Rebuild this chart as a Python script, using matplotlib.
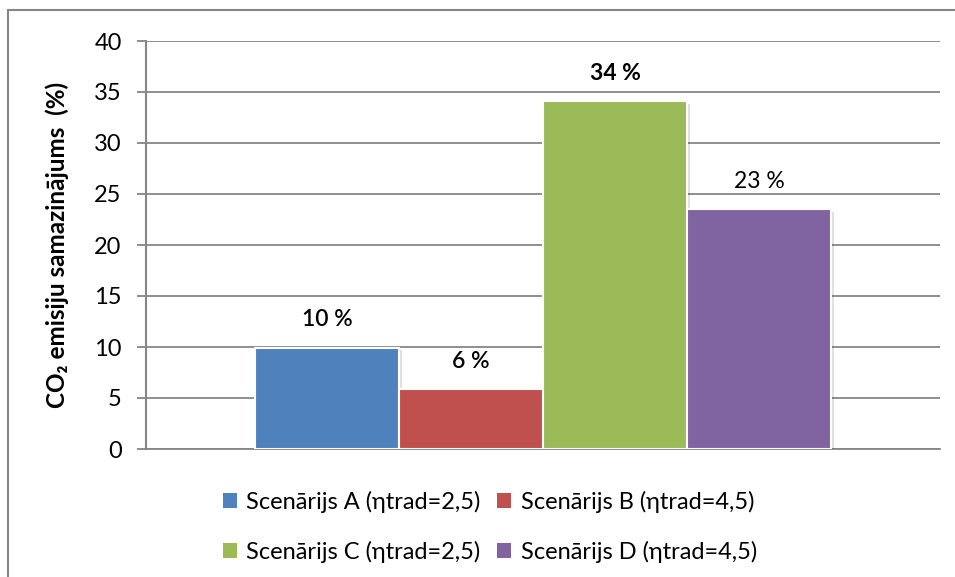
import matplotlib
matplotlib.use("Agg")
import matplotlib.pyplot as plt
import matplotlib.patheffects as pe
from matplotlib.patches import Rectangle

series = ["Scenārijs A (ηtrad=2,5)", "Scenārijs B (ηtrad=4,5)",
          "Scenārijs C (ηtrad=2,5)", "Scenārijs D (ηtrad=4,5)"]
values = [9.95, 5.9, 34.1, 23.5]
value_labels = ["10 %", "6 %", "34 %", "23 %"]
label_weights = ["semibold", "semibold", "bold", "normal"]
colors = ["#4F81BD", "#C0504D", "#9BBB59", "#8064A2"]
yticks = [0, 5, 10, 15, 20, 25, 30, 35, 40]
ylabel = "CO₂ emisiju samazinājums  (%)"

FONT = ["Lato", "DejaVu Sans"]
plt.rcParams["font.family"] = FONT

W, H = 955, 577
fig = plt.figure(figsize=(W / 100, H / 100), dpi=100)

# outer chart frame (cropped at right and bottom)
fig.patches.append(Rectangle((8 / W, -0.1), 1.2, 1 - 10 / H + 0.1,
                             transform=fig.transFigure, fill=False,
                             edgecolor="#868686", linewidth=1.5))

ax = fig.add_axes([146 / W, 1 - 449 / H, (940 - 146) / W, (449 - 41) / H])

n = len(values)
bw = 0.1814
xs = [(i - (n - 1) / 2) * bw for i in range(n)]
bars = ax.bar(xs, values, width=bw, color=colors, edgecolor="white",
              linewidth=1.5, zorder=3)
for b in bars:
    b.set_path_effects([pe.SimplePatchShadow(offset=(2, -2), shadow_rgbFace="#000000", alpha=0.12), pe.Normal()])

for x, v, lab, w in zip(xs, values, value_labels, label_weights):
    ax.annotate(lab, (x, v), xytext=(0, 20), textcoords="offset points",
                ha="center", va="center", fontsize=16.5, fontweight=w,
                color="black")

ax.set_xlim(-0.5, 0.5)
ax.set_ylim(0, 40)
ax.set_yticks(yticks)
ax.set_xticks([])
ax.tick_params(axis="y", length=6.5, width=1.3, color="#868686",
               labelsize=17, pad=11, labelcolor="black")
ax.grid(axis="y", color="#868686", linewidth=1.3, zorder=0)
ax.set_axisbelow(True)
for s in ["top", "right"]:
    ax.spines[s].set_visible(False)
ax.spines["left"].set_color("#868686")
ax.spines["left"].set_linewidth(1.5)
ax.spines["bottom"].set_color("#868686")
ax.spines["bottom"].set_linewidth(1.3)
ax.set_ylabel(ylabel, fontsize=17.5, fontweight="bold", color="black")
ax.yaxis.set_label_coords(-(146 - 69) / (940 - 146), 0.5)

handles = [bars[0], bars[2], bars[1], bars[3]]
labels = [series[0], series[2], series[1], series[3]]
leg = fig.legend(handles, labels, ncol=2, loc="center",
                 bbox_to_anchor=(490 / W, 1 - 527 / H), frameon=False,
                 fontsize=17, handlelength=0.6, handleheight=0.6,
                 handletextpad=0.4, columnspacing=0.7, labelspacing=1.2)
for h in leg.legend_handles:
    h.set_path_effects([])
    h.set_edgecolor("none")

fig.savefig("out.png", dpi=100, facecolor="white")
